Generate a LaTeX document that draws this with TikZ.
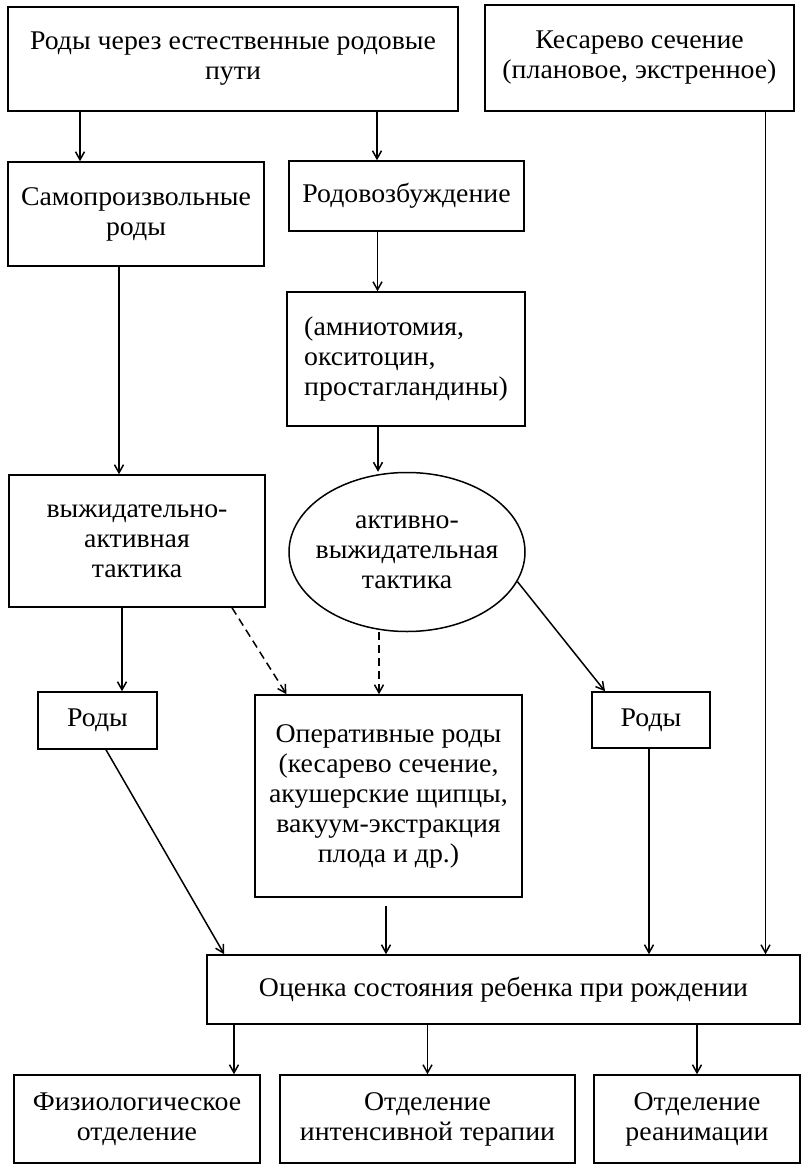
\documentclass[tikz,border=0pt]{standalone}
\usepackage{fontspec}
\setmainfont{Liberation Serif}[FakeStretch=1.03]
\usetikzlibrary{positioning,arrows.meta,shapes.geometric}

\begin{document}
\begin{tikzpicture}[x=1pt,y=-1pt,
	box/.style={draw, line width=1.5pt, align=center, inner sep=2pt, font=\fontsize{27}{30}\selectfont},
	arr/.style={-{Straight Barb[length=8pt,width=9pt]}, line width=1.5pt},
	dasharr/.style={arr, dash pattern=on 8pt off 5pt}]
	\useasboundingbox (0,0) rectangle (801,1166);

	% top row
	\node[box, minimum width=450pt, minimum height=104pt] (natural) at (233,59) {Роды через естественные родовые\\пути};
	\node[box, minimum width=309pt, minimum height=106pt] (cesar) at (639.5,58) {Кесарево сечение\\(плановое, экстренное)};

	\node[box, minimum width=256pt, minimum height=104pt] (spont) at (136,214) {Самопроизвольные\\роды};
	\node[box, minimum width=235pt, minimum height=70pt] (induct) at (406.5,196) {Родовозбуждение};
	\node[box, align=left, minimum width=238pt, minimum height=134pt] (agents) at (406,359) {(амниотомия,\\окситоцин,\\простагландины)};

	% tactics
	\node[box, ellipse, inner xsep=-20pt, minimum width=236pt, minimum height=159pt] (actwait) at (407,552) {активно-\\выжидательная\\тактика};
	\node[box, minimum width=256pt, minimum height=132pt] (waitact) at (137,541) {выжидательно-\\активная\\тактика};

	\node[box, minimum width=119pt, minimum height=57pt] (birthA) at (97.5,720.5) {Роды};
	\node[box, minimum width=267pt, minimum height=202pt] (operat) at (388.5,796) {Оперативные роды\\(кесарево сечение,\\акушерские щипцы,\\вакуум-экстракция\\плода и др.)};
	\node[box, minimum width=118pt, minimum height=56pt] (birthB) at (651,720) {Роды};

	\node[box, minimum width=593pt, minimum height=69pt] (assess) at (503.5,989.5) {Оценка состояния ребенка при рождении};

	% departments
	\node[box, minimum width=246pt, minimum height=88pt] (physio) at (137,1119) {Физиологическое\\отделение};
	\node[box, minimum width=295pt, minimum height=88pt] (intens) at (427.5,1119) {Отделение\\интенсивной терапии};
	\node[box, minimum width=206pt, minimum height=88pt] (reanim) at (697,1119) {Отделение\\реанимации};

	% connectors
	\draw[arr] ([xshift=-56pt]natural.south -| spont.north) -- ([xshift=-56pt]spont.north);
	\draw[arr] ([xshift=-29.5pt]natural.south -| induct.north) -- ([xshift=-29.5pt]induct.north);
	\draw[arr] ([xshift=126pt]cesar.south) -- ([xshift=126pt]cesar.south |- assess.north);
	\draw[arr] ([xshift=-17pt]spont.south) -- ([xshift=-17pt]spont.south |- waitact.north);
	\draw[arr] ([xshift=-29pt]induct.south) -- ([xshift=-29pt]induct.south |- agents.north);
	\draw[arr] ([xshift=-28pt]agents.south) -- ([xshift=-28pt]agents.south |- actwait.north);
	\draw[arr] ([xshift=-15pt]waitact.south) -- ([xshift=-15pt]waitact.south |- birthA.north);
	\draw[dasharr] ([xshift=95pt]waitact.south) -- ([xshift=-102pt]operat.north);
	\draw[dasharr] ([xshift=-28pt]actwait.south) -- ([xshift=-28pt]actwait.south |- operat.north);
	\draw[arr] (actwait.-15) -- ([xshift=-46pt]birthB.north);
	\draw[arr] ([xshift=8.5pt]birthA.south) -- ([xshift=18pt]assess.north west);
	\draw[arr, shorten <=8pt] ([xshift=-2.5pt]operat.south) -- ([xshift=-2.5pt]operat.south |- assess.north);
	\draw[arr] ([xshift=-2pt]birthB.south) -- ([xshift=-2pt]birthB.south |- assess.north);
	\draw[arr] ([xshift=97pt]physio.north |- assess.south) -- ([xshift=97pt]physio.north);
	\draw[arr] (intens.north |- assess.south) -- (intens.north);
	\draw[arr] (reanim.north |- assess.south) -- (reanim.north);
\end{tikzpicture}
\end{document}
